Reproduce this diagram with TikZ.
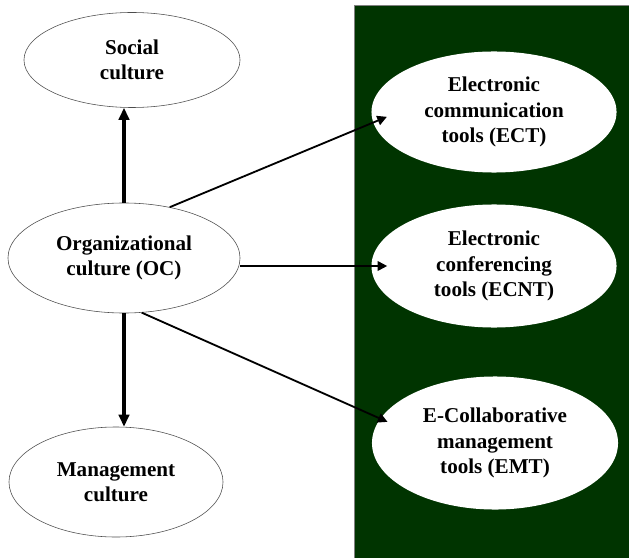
\documentclass[tikz,border=0pt]{standalone}
\usepackage{fontspec}
\setmainfont{Liberation Serif}
\usetikzlibrary{shapes.geometric,arrows.meta}
\definecolor{darkgreen}{RGB}{0,52,0}

\begin{document}
\begin{tikzpicture}[x=0.025cm,y=-0.025cm,
  culture node/.style={ellipse,draw=black!70,thin,fill=white,inner sep=0pt,
    align=center,font=\fontsize{15}{18}\selectfont\bfseries},
  tool node/.style={ellipse,draw=none,fill=white,inner sep=0pt,
    align=center,font=\fontsize{15}{18}\selectfont\bfseries},
  thick link/.style={line width=2.2pt,-{Triangle[length=3mm,width=2.6mm]}},
  thin link/.style={line width=1.3pt,-{Triangle[length=2.4mm,width=2.4mm]}}]
  \useasboundingbox (0,0) rectangle (629,557);
  % BACKGROUND
  \fill[white] (0,0) rectangle (629,557);
  \draw[fill=darkgreen,draw=black!50] (354.5,5) rectangle (631,560);
  % NODES
  \node[culture node,minimum width=5.4cm,minimum height=2.375cm] (social) at (132,60) {Social\\culture};
  \node[culture node,minimum width=5.8cm,minimum height=2.75cm] (oc) at (124,258) {Organizational\\culture (OC)};
  \node[culture node,minimum width=5.35cm,minimum height=2.75cm] (mgmt) at (116,482) {Management\\culture};
  \node[tool node,minimum width=6.125cm,minimum height=3.025cm] (ect) at (494,112) {Electronic\\communication\\tools (ECT)};
  \node[tool node,minimum width=6.125cm,minimum height=3.075cm] (ecnt) at (494,266) {Electronic\\conferencing\\tools (ECNT)};
  \node[tool node,minimum width=6.15cm,minimum height=3.325cm] (emt) at (495,443) {E-Collaborative\\management\\tools (EMT)};
  % PATHS
  \draw[thick link] (oc.north) -- (oc.north |- social.south);
  \draw[thick link] (oc.south) -- (oc.south |- mgmt.north);
  \draw[thin link,shorten >=-15*0.025cm] (oc.48) -- (ect.185);
  \draw[thin link,shorten >=-16*0.025cm] (ecnt.west -| oc.east) -- (ecnt.west);
  \draw[thin link,shorten >=-8*0.025cm] (oc.-72) -- (emt.168);
\end{tikzpicture}
\end{document}
